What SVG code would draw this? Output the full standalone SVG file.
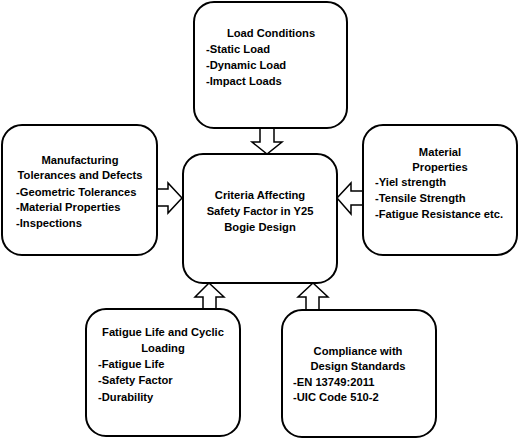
<svg xmlns="http://www.w3.org/2000/svg" width="520" height="440" viewBox="0 0 520 440">
<style>
.box{fill:#fff;stroke:#000;stroke-width:2}
.arr{fill:#fff;stroke:#000;stroke-width:1.5;stroke-linejoin:miter}
text{font-family:"Liberation Sans",Arial,sans-serif;font-weight:bold;font-size:11.2px;fill:#000}
.c{text-anchor:middle}
</style>
<rect width="520" height="440" fill="#fff"/>
<g id="connectors">
<polygon class="arr" points="260,128 274,128 274,142 282,142 267,154 252,142 260,142"/>
<polygon class="arr" points="157,189 168,189 168,183 182,198 168,213 168,206 157,206"/>
<polygon class="arr" points="363,191 351,191 351,183 337,198 351,214 351,205 363,205"/>
<polygon class="arr" points="203,309 203,297 195,297 209,283 224,297 216,297 216,309"/>
<polygon class="arr" points="306,310 306,297 298,297 313,283 328,297 319,297 319,310"/>
</g>
<g id="load">
<rect class="box" x="194" y="2" width="153" height="126" rx="20"/>
<text class="c" x="271" y="37">Load Conditions</text>
<text x="206" y="53">-Static Load</text>
<text x="206" y="69">-Dynamic Load</text>
<text x="206" y="85">-Impact Loads</text>
</g>
<g id="manufacturing">
<rect class="box" x="2" y="125" width="155" height="130" rx="20"/>
<text class="c" x="80" y="164">Manufacturing</text>
<text class="c" x="80" y="179">Tolerances and Defects</text>
<text x="16" y="196">-Geometric Tolerances</text>
<text x="16" y="211">-Material Properties</text>
<text x="16" y="227">-Inspections</text>
</g>
<g id="center">
<rect class="box" x="183" y="154" width="154" height="129" rx="20"/>
<text class="c" x="260" y="199">Criteria Affecting</text>
<text class="c" x="260" y="215">Safety Factor in Y25</text>
<text class="c" x="260" y="231">Bogie Design</text>
</g>
<g id="material">
<rect class="box" x="363" y="125" width="154" height="130" rx="20"/>
<text class="c" x="440" y="156">Material</text>
<text class="c" x="440" y="171">Properties</text>
<text x="375" y="186">-Yiel strength</text>
<text x="375" y="202">-Tensile Strength</text>
<text x="375" y="218">-Fatigue Resistance etc.</text>
</g>
<g id="fatigue">
<rect class="box" x="86" y="309" width="154" height="127" rx="20"/>
<text class="c" x="163" y="336">Fatigue Life and Cyclic</text>
<text class="c" x="163" y="352">Loading</text>
<text x="98" y="368">-Fatigue Life</text>
<text x="98" y="384">-Safety Factor</text>
<text x="98" y="401">-Durability</text>
</g>
<g id="compliance">
<rect class="box" x="282" y="310" width="154" height="127" rx="20"/>
<text class="c" x="358" y="355">Compliance with</text>
<text class="c" x="358" y="370">Design Standards</text>
<text x="293" y="386">-EN 13749:2011</text>
<text x="293" y="401">-UIC Code 510-2</text>
</g>
</svg>
